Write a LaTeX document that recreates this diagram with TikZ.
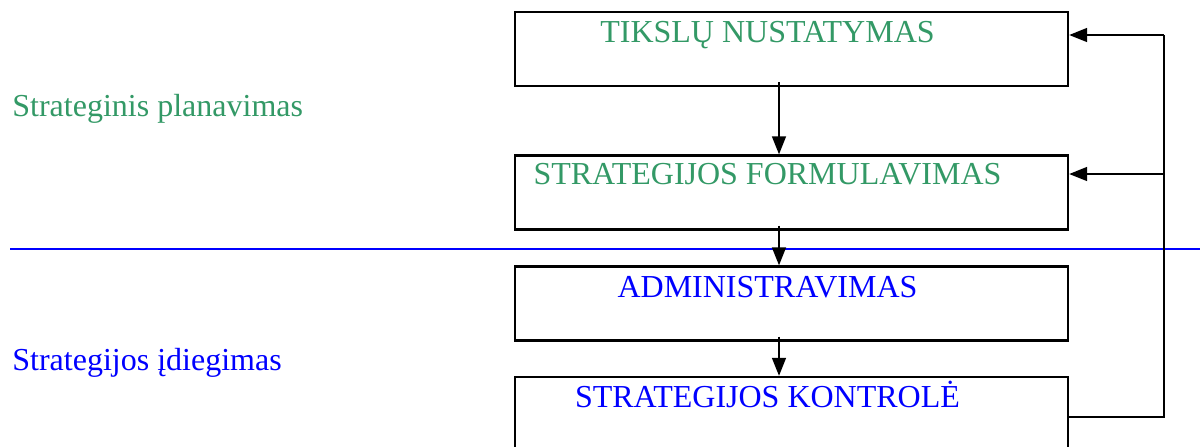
\documentclass[tikz,border=0pt]{standalone}
\usepackage{fontspec}
\setmainfont{Liberation Serif}
\usetikzlibrary{arrows.meta}
\definecolor{planGreen}{RGB}{51,153,102}
\definecolor{implBlue}{RGB}{0,0,255}

\begin{document}
\begin{tikzpicture}[
		x=0.5pt, y=-0.5pt,
		font=\fontsize{16}{19}\selectfont,
		box/.style={rectangle, draw=black, line width=1.2pt, minimum width=276.5pt, minimum height=37pt, inner sep=0pt},
		gt/.style={text=planGreen, anchor=base, xshift=-12pt, yshift=-16pt},
		bt/.style={text=implBlue, anchor=base, xshift=-12pt, yshift=-16pt},
		ln/.style={line width=0.8pt},
		arr/.style={-{Triangle[width=7pt, length=9pt]}, line width=0.8pt}
		]
		\useasboundingbox (0,0) rectangle (1200,446);
		\clip (0,0) rectangle (1200,446);
		
		%Nodes
		\node[box]	(tiks)	at (791.5, 49)		{};
		\node[box]	(form)	at (791.5, 192.5)	{};
		\node[box]	(admin)	at (791.5, 303.5)	{};
		\node[box]	(kontr)	at (791.5, 414)		{};
		\path (tiks.north)  node[gt] {TIKSLŲ NUSTATYMAS};
		\path (form.north)  node[gt, yshift=1pt] {STRATEGIJOS FORMULAVIMAS};
		\path (admin.north) node[bt] {ADMINISTRAVIMAS};
		\path (kontr.north) node[bt] {STRATEGIJOS KONTROLĖ};
		
		\node[text=planGreen, anchor=base west, inner sep=0pt]	(plan)	at (12, 116)	{Strateginis planavimas};
		\node[text=implBlue, anchor=base west, inner sep=0pt]	(diegt)	at (12, 370)	{Strategijos įdiegimas};
		
		\coordinate (fbTop)	at (1164, 35);
		\coordinate (fbMid)	at (1164, 174);
		
		%Lines
		\draw[implBlue, line width=1pt] (10, 249) -- (1200, 249);
		
		\draw[arr] ([xshift=-6.25pt, yshift=2.5pt]tiks.south)  -- ([xshift=-6.25pt]form.north);
		\draw[arr] ([xshift=-6.25pt, yshift=2.5pt]form.south)  -- ([xshift=-6.25pt]admin.north);
		\draw[arr] ([xshift=-6.25pt, yshift=2.5pt]admin.south) -- ([xshift=-6.25pt]kontr.north);
		
		\draw[ln]  ([yshift=-1.5pt]kontr.east) -| (fbTop);
		\draw[arr] (fbTop) -- ([yshift=7pt]tiks.east);
		\draw[arr] (fbMid) -- ([yshift=9.25pt]form.east);
		
	\end{tikzpicture}
\end{document}
